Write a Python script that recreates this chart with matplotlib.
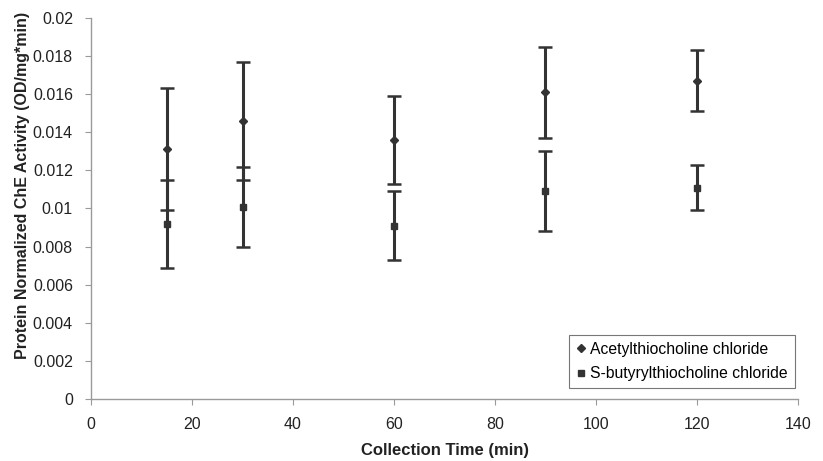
import matplotlib.pyplot as plt
from matplotlib.lines import Line2D

plt.rcParams["font.family"] = ["Liberation Sans", "DejaVu Sans"]

collection_time = [15, 30, 60, 90, 120]

acetyl_mean = [0.0131, 0.0146, 0.0136, 0.0161, 0.0167]
acetyl_err = [0.0032, 0.0031, 0.0023, 0.0024, 0.0016]

butyryl_mean = [0.0092, 0.0101, 0.0091, 0.0109, 0.0111]
butyryl_err = [0.0023, 0.0021, 0.0018, 0.0021, 0.0012]

x_ticks = [0, 20, 40, 60, 80, 100, 120, 140]
y_ticks = [0, 0.002, 0.004, 0.006, 0.008, 0.01, 0.012, 0.014, 0.016, 0.018, 0.02]
y_tick_labels = ["0", "0.002", "0.004", "0.006", "0.008", "0.01",
                 "0.012", "0.014", "0.016", "0.018", "0.02"]

ink = "#333333"
axis_grey = "#9a9a9a"

fig = plt.figure(figsize=(8.23, 4.61), dpi=100)
ax = fig.add_axes([0.1106, 0.1345, 0.859, 0.8265])

ax.errorbar(collection_time, acetyl_mean, yerr=acetyl_err, fmt="D",
            markersize=4, color=ink, ecolor=ink, elinewidth=2.2,
            capsize=5, capthick=1.8)
ax.errorbar(collection_time, butyryl_mean, yerr=butyryl_err, fmt="s",
            markersize=4.5, color=ink, ecolor=ink, elinewidth=2.2,
            capsize=5, capthick=1.8)

ax.set_xlim(0, 140)
ax.set_ylim(0, 0.02)
ax.set_xticks(x_ticks)
ax.set_yticks(y_ticks)
ax.set_yticklabels(y_tick_labels)

for side in ["top", "right"]:
    ax.spines[side].set_visible(False)
for side in ["left", "bottom"]:
    ax.spines[side].set_color(axis_grey)
    ax.spines[side].set_linewidth(1.0)

ax.tick_params(axis="both", colors=axis_grey, labelcolor="#222222",
               labelsize=11.5, length=4, width=0.8)
ax.tick_params(axis="x", pad=9)
ax.tick_params(axis="y", pad=9)

ax.set_xlabel("Collection Time (min)", fontsize=12, fontweight="bold",
              color="#222222", labelpad=8)
ax.set_ylabel("Protein Normalized ChE Activity (OD/mg*min)", fontsize=11.5,
              fontweight="bold", color="#222222")
ax.yaxis.set_label_coords(-0.087, 0.56)

handles = [
    Line2D([], [], marker="D", color=ink, linestyle="none", markersize=4),
    Line2D([], [], marker="s", color=ink, linestyle="none", markersize=4.5),
]
legend = ax.legend(handles, ["Acetylthiocholine chloride",
                             "S-butyrylthiocholine chloride"],
                   loc="lower right", bbox_to_anchor=(0.996, 0.028),
                   fontsize=11.3, frameon=True, fancybox=False,
                   handlelength=0.6, handletextpad=0.3, borderpad=0.45,
                   labelspacing=0.6, borderaxespad=0.0)
legend.get_frame().set_edgecolor("#555555")
legend.get_frame().set_linewidth(0.8)

fig.savefig("out.png", dpi=100)
